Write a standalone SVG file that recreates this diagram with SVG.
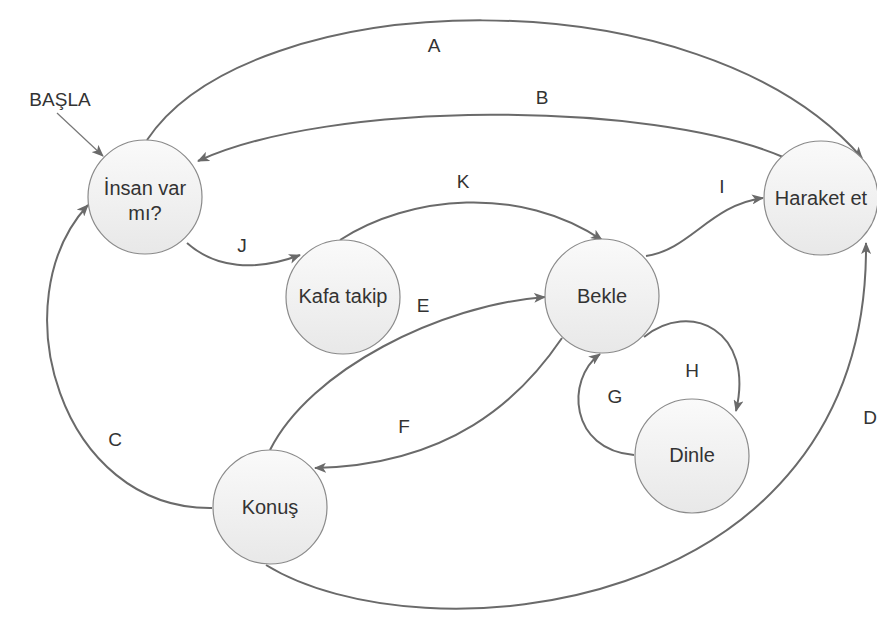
<svg xmlns="http://www.w3.org/2000/svg" width="877" height="621" viewBox="0 0 877 621">
  <defs>
    <linearGradient id="nodeFill" x1="0" y1="0" x2="0" y2="1">
      <stop offset="0" stop-color="#fafafa"/>
      <stop offset="1" stop-color="#e8e8e8"/>
    </linearGradient>
    <marker id="arrow" viewBox="0 0 12 10" refX="11" refY="5" markerWidth="12" markerHeight="10" markerUnits="userSpaceOnUse" orient="auto">
      <path d="M0,0 L12,5 L0,10 L3,5 Z" fill="#6a6a6a"/>
    </marker>
  </defs>
  <style>
    .node circle { fill: url(#nodeFill); stroke: #8a8a8a; stroke-width: 1.2; }
    .node text { font-family: "Liberation Sans", Arial, sans-serif; font-size: 20px; fill: #333; text-anchor: middle; }
    .edge { fill: none; stroke: #6a6a6a; stroke-width: 2; marker-end: url(#arrow); }
    .start { fill: none; stroke: #777; stroke-width: 1.2; marker-end: url(#arrow); }
    .label { font-family: "Liberation Sans", Arial, sans-serif; font-size: 19px; fill: #333; text-anchor: middle; }
  </style>
  <rect width="877" height="621" fill="#ffffff"/>

  <!-- connectors -->
  <g id="connectors">
    <path class="start" d="M57,113 L103,156"/>
    <path id="edge-A" class="edge" d="M147,140 C250,-15 700,-30 862,158"/>
    <path id="edge-B" class="edge" d="M783,157 C650,100 330,100 198,161"/>
    <path id="edge-K" class="edge" d="M340,240 C410,195 520,185 602,240"/>
    <path id="edge-J" class="edge" d="M187,243 C215,268 255,272 300,255"/>
    <path id="edge-I" class="edge" d="M646,256 C690,250 710,205 763,198"/>
    <path id="edge-E" class="edge" d="M270,450 C310,370 440,305 545,297"/>
    <path id="edge-F" class="edge" d="M562,338 C520,400 450,465 315,468"/>
    <path id="edge-H" class="edge" d="M644,337 C690,300 755,330 736,411"/>
    <path id="edge-G" class="edge" d="M634,455 C570,450 565,380 600,354"/>
    <path id="edge-C" class="edge" d="M212,508 C60,510 0,300 88,205"/>
    <path id="edge-D" class="edge" d="M266,565 C420,660 870,620 866,243"/>

    <text class="label" x="60" y="106">BAŞLA</text>
    <text class="label" x="434" y="52">A</text>
    <text class="label" x="542" y="104">B</text>
    <text class="label" x="463" y="188">K</text>
    <text class="label" x="722" y="193">I</text>
    <text class="label" x="242" y="252">J</text>
    <text class="label" x="423" y="312">E</text>
    <text class="label" x="404" y="433">F</text>
    <text class="label" x="692" y="377">H</text>
    <text class="label" x="615" y="403">G</text>
    <text class="label" x="115" y="446">C</text>
    <text class="label" x="870" y="424">D</text>
  </g>

  <!-- states -->
  <g id="insan-var-mi" class="node">
    <circle cx="145" cy="197" r="57"/>
    <text x="145" y="195">İnsan var</text>
    <text x="145" y="220">mı?</text>
  </g>
  <g id="haraket-et" class="node">
    <circle cx="821" cy="198" r="57"/>
    <text x="821" y="205">Haraket et</text>
  </g>
  <g id="kafa-takip" class="node">
    <circle cx="343" cy="297" r="57"/>
    <text x="343" y="303">Kafa takip</text>
  </g>
  <g id="bekle" class="node">
    <circle cx="602" cy="296" r="57"/>
    <text x="602" y="303">Bekle</text>
  </g>
  <g id="dinle" class="node">
    <circle cx="692" cy="456" r="57"/>
    <text x="692" y="462">Dinle</text>
  </g>
  <g id="konus" class="node">
    <circle cx="270" cy="507" r="57"/>
    <text x="270" y="514">Konuş</text>
  </g>
</svg>
